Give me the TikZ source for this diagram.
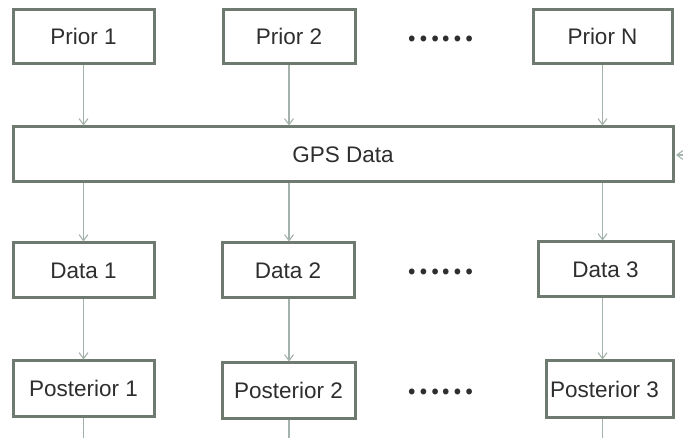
\documentclass[tikz,border=0pt]{standalone}
\usepackage{fontspec}
\setmainfont{Liberation Sans}
\newfontfamily\cjk{Noto Sans CJK SC}[BoldFont={Noto Sans CJK SC Bold}]
\usetikzlibrary{arrows.meta}
\definecolor{boxline}{HTML}{6E7A70}
\definecolor{arrline}{HTML}{A3B2AA}
\definecolor{txt}{HTML}{2E2E2E}
\begin{document}
\begin{tikzpicture}[x=1pt,y=-1pt,
  box/.style={draw=boxline, line width=3pt, fill=white, inner sep=0pt, text=txt,
    font=\fontsize{22.5}{27}\selectfont, minimum height=54pt},
  conn/.style={draw=arrline, line width=1.1pt, -{Straight Barb[length=6pt,width=9pt]}},
  plain/.style={draw=arrline, line width=1.1pt},
  dotsnode/.style={inner sep=0pt, text=txt, font=\cjk\bfseries\fontsize{31}{36}\selectfont}]
\useasboundingbox (0,0) rectangle (683,438);
% top row
\node[box, minimum width=141pt] (p1) at (83.5,36.5) {Prior 1};
\node[box, minimum width=132pt] (p2) at (289,36.5) {Prior 2};
\node[box, minimum width=139pt] (pN) at (602.5,36.5) {Prior N};
\node[dotsnode] (t1) at (440.5,39) {……};
% GPS
\node[box, minimum width=660pt, minimum height=55pt] (gps) at (343,154.5) {GPS Data};
% data row
\node[box, minimum width=141pt, minimum height=55pt] (d1) at (83.5,270.5) {Data 1};
\node[box, minimum width=132pt, minimum height=55pt] (d2) at (288,270.5) {Data 2};
\node[box, minimum width=135pt, minimum height=55pt] (d3) at (605.5,269.5) {Data 3};
\node[dotsnode] (t2) at (440.5,272) {……};
% posterior row
\node[box, minimum width=141pt, minimum height=55pt] (q1) at (83.5,388.5) {Posterior 1};
\node[box, minimum width=133pt, minimum height=55pt] (q2) at (288.5,390.5) {Posterior 2};
\node[box, minimum width=127pt, minimum height=56pt] (q3) at (609.5,389) {Posterior 3\hspace*{10pt}};
\node[dotsnode] (t3) at (440.5,392) {……};
% coordinates
\coordinate (ext) at (683,155);
\coordinate (bot) at (0,438);
% connectors
\draw[conn] (p1.south) -- (p1.south |- gps.north);
\draw[conn] (p2.south) -- (p2.south |- gps.north);
\draw[conn] (pN.south) -- (pN.south |- gps.north);
\draw[conn] (p1.south |- gps.south) -- (p1.south |- d1.north);
\draw[conn] (p2.south |- gps.south) -- (p2.south |- d2.north);
\draw[conn] (pN.south |- gps.south) -- (pN.south |- d3.north);
\draw[conn] (p1.south |- d1.south) -- (p1.south |- q1.north);
\draw[conn] (p2.south |- d2.south) -- (p2.south |- q2.north);
\draw[conn] (pN.south |- d3.south) -- (pN.south |- q3.north);
\draw[plain] (p1.south |- q1.south) -- (p1.south |- bot);
\draw[plain] (p2.south |- q2.south) -- (p2.south |- bot);
\draw[plain] (pN.south |- q3.south) -- (pN.south |- bot);
\draw[conn] (ext) -- ([xshift=1.5pt]gps.east |- ext);
\end{tikzpicture}
\end{document}
